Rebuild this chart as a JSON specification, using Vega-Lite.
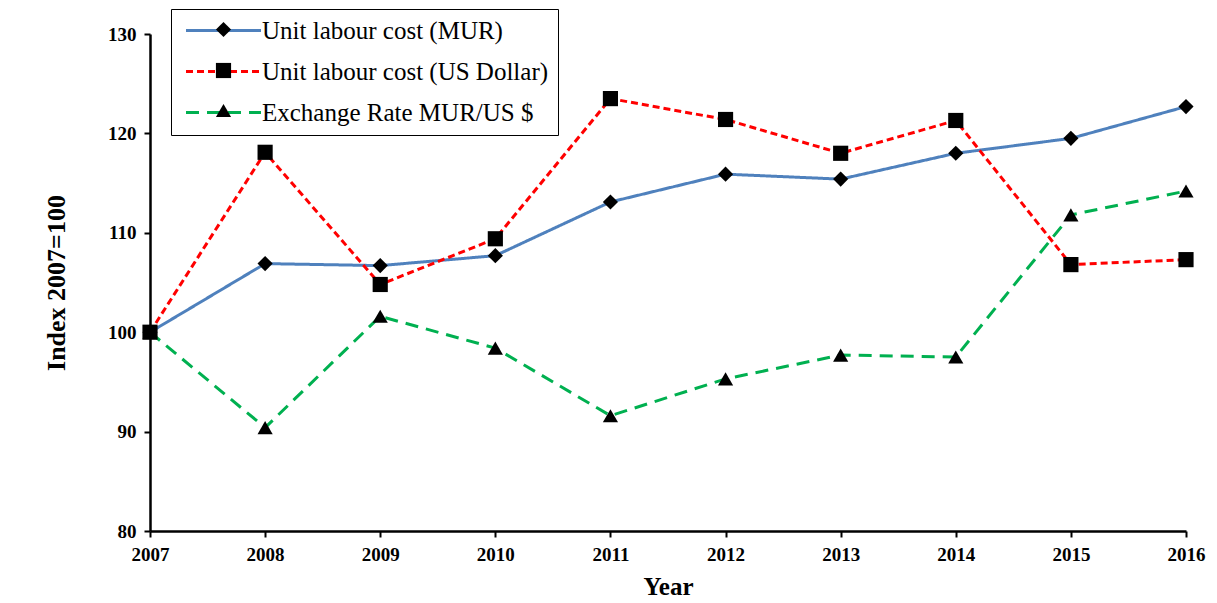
{
  "$schema": "https://vega.github.io/schema/vega-lite/v6.json",
  "width": 1036,
  "height": 497,
  "autosize": {"type": "none"},
  "padding": {"left": 150, "top": 34, "right": 31, "bottom": 72},
  "background": "white",
  "config": {"view": {"stroke": null}, "font": "Liberation Serif"},
  "data": {
    "values": [
      {"year": 2007, "series": "Exchange Rate MUR/US $", "value": 100},
      {"year": 2008, "series": "Exchange Rate MUR/US $", "value": 90.4},
      {"year": 2009, "series": "Exchange Rate MUR/US $", "value": 101.6},
      {"year": 2010, "series": "Exchange Rate MUR/US $", "value": 98.4},
      {"year": 2011, "series": "Exchange Rate MUR/US $", "value": 91.6},
      {"year": 2012, "series": "Exchange Rate MUR/US $", "value": 95.3},
      {"year": 2013, "series": "Exchange Rate MUR/US $", "value": 97.7},
      {"year": 2014, "series": "Exchange Rate MUR/US $", "value": 97.5},
      {"year": 2015, "series": "Exchange Rate MUR/US $", "value": 111.8},
      {"year": 2016, "series": "Exchange Rate MUR/US $", "value": 114.2},
      {"year": 2007, "series": "Unit labour cost (MUR)", "value": 100},
      {"year": 2008, "series": "Unit labour cost (MUR)", "value": 106.9},
      {"year": 2009, "series": "Unit labour cost (MUR)", "value": 106.7},
      {"year": 2010, "series": "Unit labour cost (MUR)", "value": 107.7},
      {"year": 2011, "series": "Unit labour cost (MUR)", "value": 113.1},
      {"year": 2012, "series": "Unit labour cost (MUR)", "value": 115.9},
      {"year": 2013, "series": "Unit labour cost (MUR)", "value": 115.4},
      {"year": 2014, "series": "Unit labour cost (MUR)", "value": 118.0},
      {"year": 2015, "series": "Unit labour cost (MUR)", "value": 119.5},
      {"year": 2016, "series": "Unit labour cost (MUR)", "value": 122.7},
      {"year": 2007, "series": "Unit labour cost (US Dollar)", "value": 100},
      {"year": 2008, "series": "Unit labour cost (US Dollar)", "value": 118.1},
      {"year": 2009, "series": "Unit labour cost (US Dollar)", "value": 104.8},
      {"year": 2010, "series": "Unit labour cost (US Dollar)", "value": 109.4},
      {"year": 2011, "series": "Unit labour cost (US Dollar)", "value": 123.5},
      {"year": 2012, "series": "Unit labour cost (US Dollar)", "value": 121.4},
      {"year": 2013, "series": "Unit labour cost (US Dollar)", "value": 118.0},
      {"year": 2014, "series": "Unit labour cost (US Dollar)", "value": 121.3},
      {"year": 2015, "series": "Unit labour cost (US Dollar)", "value": 106.8},
      {"year": 2016, "series": "Unit labour cost (US Dollar)", "value": 107.3}
    ]
  },
  "encoding": {
    "x": {
      "field": "year",
      "type": "quantitative",
      "scale": {"domain": [2007, 2016], "nice": false, "zero": false},
      "axis": {
        "title": "Year",
        "values": [2007, 2008, 2009, 2010, 2011, 2012, 2013, 2014, 2015, 2016],
        "format": "d",
        "grid": false,
        "labelFlush": false,
        "labelOverlap": false,
        "domainColor": "black",
        "domainWidth": 2.5,
        "tickColor": "black",
        "tickWidth": 2,
        "tickSize": 6,
        "labelFont": "Liberation Serif",
        "labelFontWeight": "bold",
        "labelFontSize": 19,
        "labelColor": "black",
        "labelPadding": 8,
        "titleFont": "Liberation Serif",
        "titleFontWeight": "bold",
        "titleFontSize": 25,
        "titleColor": "black",
        "titlePadding": 10
      }
    },
    "y": {
      "field": "value",
      "type": "quantitative",
      "scale": {"domain": [80, 130], "nice": false, "zero": false},
      "axis": {
        "title": "Index 2007=100",
        "values": [80, 90, 100, 110, 120, 130],
        "grid": false,
        "domainColor": "black",
        "domainWidth": 2.5,
        "tickColor": "black",
        "tickWidth": 2,
        "tickSize": 6,
        "labelFont": "Liberation Serif",
        "labelFontWeight": "bold",
        "labelFontSize": 19,
        "labelColor": "black",
        "labelPadding": 8,
        "titleFont": "Liberation Serif",
        "titleFontWeight": "bold",
        "titleFontSize": 26,
        "titleColor": "black",
        "titlePadding": 38
      }
    }
  },
  "layer": [
    {
      "mark": {"type": "line", "strokeWidth": 3},
      "encoding": {
        "color": {
          "field": "series",
          "type": "nominal",
          "scale": {
            "domain": ["Unit labour cost (MUR)", "Unit labour cost (US Dollar)", "Exchange Rate MUR/US $"],
            "range": ["#4f81bd", "#ff0000", "#00b050"]
          },
          "legend": {
            "orient": "none",
            "legendX": 21,
            "legendY": -25,
            "title": null,
            "symbolType": "M-5,0L5,0",
            "symbolSize": 225,
            "symbolOffset": 31,
            "symbolStrokeWidth": 3,
            "labelFont": "Liberation Serif",
            "labelFontSize": 25,
            "labelColor": "black",
            "labelOffset": 26,
            "labelLimit": 600,
            "rowPadding": 15,
            "padding": 9,
            "strokeColor": "black",
            "fillColor": "white"
          }
        },
        "strokeDash": {
          "field": "series",
          "type": "nominal",
          "scale": {
            "domain": ["Unit labour cost (MUR)", "Unit labour cost (US Dollar)", "Exchange Rate MUR/US $"],
            "range": [[1, 0], [7, 4], [13, 8]]
          },
          "legend": {
            "orient": "none",
            "legendX": 21,
            "legendY": -25,
            "title": null,
            "symbolType": "M-5,0L5,0",
            "symbolSize": 225,
            "symbolOffset": 31,
            "symbolStrokeWidth": 3,
            "labelFont": "Liberation Serif",
            "labelFontSize": 25,
            "labelColor": "black",
            "labelOffset": 26,
            "labelLimit": 600,
            "rowPadding": 15,
            "padding": 9,
            "strokeColor": "black",
            "fillColor": "white"
          }
        }
      }
    },
    {
      "mark": {"type": "point", "filled": true, "color": "black", "opacity": 1, "size": 230},
      "encoding": {
        "shape": {
          "field": "series",
          "type": "nominal",
          "sort": ["Unit labour cost (MUR)", "Unit labour cost (US Dollar)", "Exchange Rate MUR/US $"],
          "scale": {"range": ["diamond", "square", "triangle-up"]},
          "legend": {
            "orient": "none",
            "legendX": 65,
            "legendY": -13,
            "title": null,
            "symbolSize": 230,
            "symbolFillColor": "black",
            "symbolStrokeColor": "black",
            "symbolOpacity": 1,
            "labelExpr": "''",
            "rowPadding": 18,
            "padding": 0
          }
        }
      }
    }
  ]
}
